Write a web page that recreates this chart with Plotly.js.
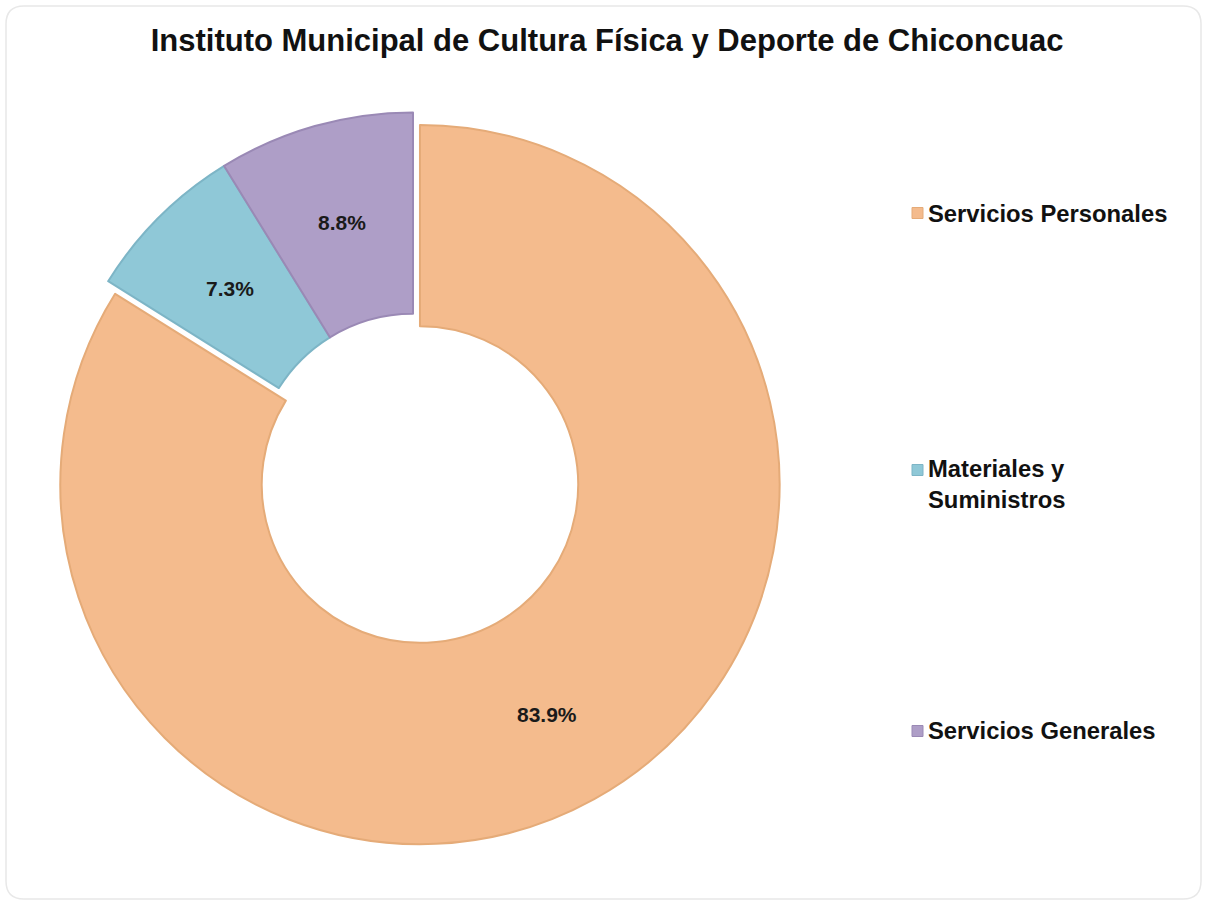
<!DOCTYPE html>
<html>
<head>
<meta charset="utf-8">
<script src="https://cdn.plot.ly/plotly-3.0.1.min.js"></script>
<style>
  html, body { margin: 0; padding: 0; background: #ffffff; }
  #chart { width: 1207px; height: 905px; }
</style>
</head>
<body>
<div id="chart"></div>
<script>
// ---- data ----
const chartTitle = "Instituto Municipal de Cultura Física y Deporte de Chiconcuac";
const categories = ["Servicios Personales", "Materiales y<br>Suministros", "Servicios Generales"];
const shares = [83.9, 7.3, 8.8];
const sliceColors = ["#F4BB8D", "#8FC8D7", "#AE9EC7"];
const edgeColors = ["#E5AB78", "#7DB5C6", "#9A89B5"];
const pulls = [0.04, 0, 0];

const W = 1207, H = 905;
const HOLE = 0.44;
const domX = [36.5 / W, 789.5 / W], domY = [1 - 846 / H, 1 - 98 / H];

const trace = {
  type: "pie",
  values: shares,
  labels: categories,
  sort: false,
  direction: "clockwise",
  rotation: 0,
  hole: HOLE,
  pull: pulls,
  marker: { colors: sliceColors, line: { color: edgeColors, width: 2 } },
  textposition: "none",
  domain: { x: domX, y: domY },
  showlegend: false,
  hoverinfo: "label+percent"
};

// percentage labels placed at the middle of each ring segment (derived from the shares)
const boxW = (domX[1] - domX[0]) * W, boxH = (domY[1] - domY[0]) * H;
const maxPull = Math.max.apply(null, pulls);
const R = Math.min(boxW, boxH) / 2 / (1 + maxPull);
const cx = (domX[0] + domX[1]) / 2 * W, cy = (1 - (domY[0] + domY[1]) / 2) * H;
const total = shares.reduce((a, b) => a + b, 0);
let cum = 0;
const annotations = [];
shares.forEach((v, i) => {
  const mid = (cum + v / 2) / total * 2 * Math.PI;
  cum += v;
  const rr = R * (1 + HOLE) / 2 + pulls[i] * R + (i === 0 ? 4 : 0);
  const px = cx + rr * Math.sin(mid), py = cy - rr * Math.cos(mid);
  annotations.push({
    xref: "paper", yref: "paper", x: px / W, y: 1 - py / H,
    xanchor: "center", yanchor: "middle", showarrow: false,
    text: "<b>" + v.toFixed(1) + "%</b>",
    font: { family: "Liberation Sans, Arial, sans-serif", size: 21, color: "#1a1a1a" }
  });
});

// custom legend (real text) placed to the right
const legendY = [213, 484, 730];
categories.forEach((c, i) => annotations.push({
  xref: "paper", yref: "paper",
  x: 926 / W, y: 1 - legendY[i] / H,
  xanchor: "left", yanchor: "middle",
  align: "left",
  text: "<b>" + c + "</b>",
  showarrow: false,
  font: { family: "Liberation Sans, Arial, sans-serif", size: 23.8, color: "#111111" }
}));
const legendMarkerY = [213, 470, 731];
const shapes = legendMarkerY.map((y, i) => ({
  type: "rect", xref: "paper", yref: "paper",
  x0: 912 / W, x1: 923 / W, y0: 1 - (y + 5.5) / H, y1: 1 - (y - 5.5) / H,
  fillcolor: sliceColors[i], line: { color: edgeColors[i], width: 1 }
}));
// faint outer frame
shapes.push({
  type: "path", xref: "paper", yref: "paper",
  path: (function () {
    const x0 = 6 / W, x1 = 1201 / W, y0 = 1 - 899 / H, y1 = 1 - 6 / H;
    const rx = 18 / W, ry = 18 / H;
    return `M ${x0 + rx} ${y1} L ${x1 - rx} ${y1} Q ${x1} ${y1} ${x1} ${y1 - ry} L ${x1} ${y0 + ry} Q ${x1} ${y0} ${x1 - rx} ${y0} L ${x0 + rx} ${y0} Q ${x0} ${y0} ${x0} ${y0 + ry} L ${x0} ${y1 - ry} Q ${x0} ${y1} ${x0 + rx} ${y1} Z`;
  })(),
  line: { color: "#E8E8E8", width: 1.5 }, fillcolor: "rgba(0,0,0,0)", layer: "below"
});

const layout = {
  width: W, height: H,
  margin: { l: 0, r: 0, t: 0, b: 0 },
  paper_bgcolor: "#ffffff",
  title: {
    text: "<b>" + chartTitle + "</b>",
    x: 0.503, xanchor: "center",
    y: 1 - 40 / H, yanchor: "middle",
    font: { family: "Liberation Sans, Arial, sans-serif", size: 31, color: "#111111" }
  },
  annotations: annotations,
  shapes: shapes,
  showlegend: false
};

Plotly.newPlot("chart", [trace], layout, { displayModeBar: false, staticPlot: true });
</script>
</body>
</html>
